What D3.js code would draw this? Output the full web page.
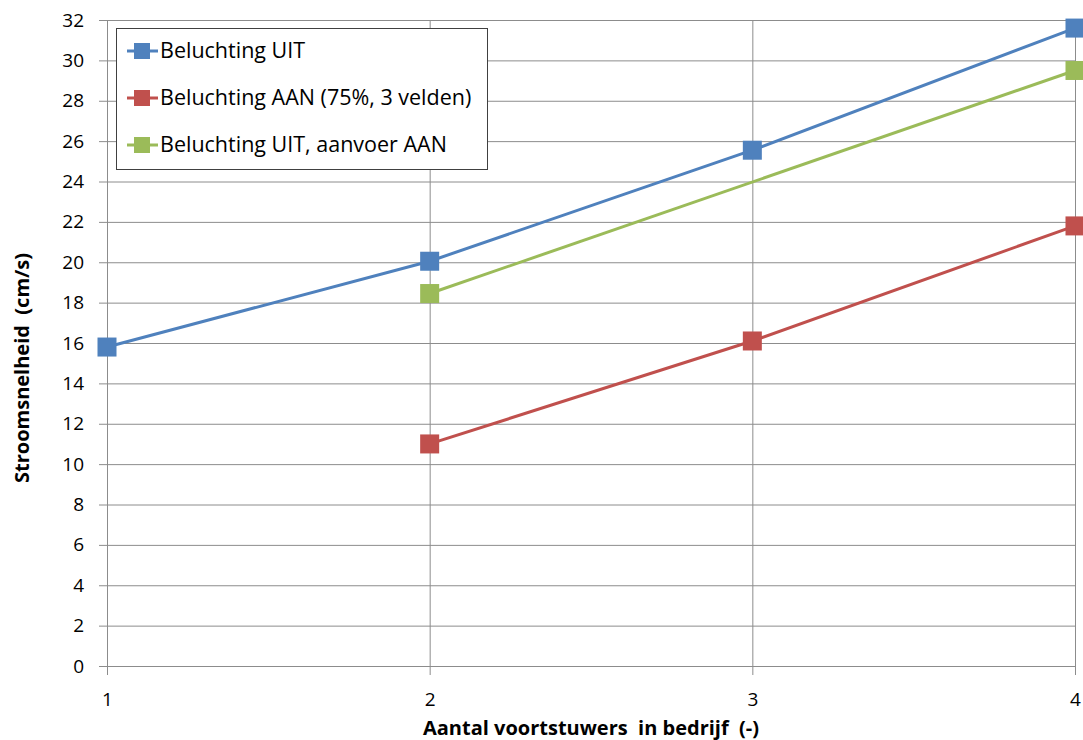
<!DOCTYPE html>
<html>
<head>
<meta charset="utf-8">
<script src="https://cdn.jsdelivr.net/npm/d3@7/dist/d3.min.js"></script>
<style>
  html, body { margin: 0; padding: 0; background: #fff; }
  svg { display: block; }
  text { font-family: "Open Sans", "Liberation Sans", sans-serif; fill: #000; white-space: pre; }
</style>
</head>
<body>
<svg id="chart" width="1083" height="740"></svg>
<script>
// Number of propulsion units in operation (x) against flow velocity (y)
const xTicks = [1, 2, 3, 4];
const yTicks = [0, 2, 4, 6, 8, 10, 12, 14, 16, 18, 20, 22, 24, 26, 28, 30, 32];

const seriesNames = [
  "Beluchting UIT",
  "Beluchting AAN (75%, 3 velden)",
  "Beluchting UIT, aanvoer AAN"
];
const seriesColors = ["#4F81BD", "#C0504D", "#9BBB59"];

const uitX = [1, 2, 3, 4];
const uitY = [15.8, 20.05, 25.55, 31.6];

const aanX = [2, 3, 4];
const aanY = [11.0, 16.1, 21.8];

const aanvoerX = [2, 4];
const aanvoerY = [18.45, 29.5];

const xTitle = "Aantal voortstuwers  in bedrijf  (-)";
const yTitle = "Stroomsnelheid  (cm/s)";

const series = [
  { name: seriesNames[0], color: seriesColors[0], pts: uitX.map((x, i) => [x, uitY[i]]) },
  { name: seriesNames[1], color: seriesColors[1], pts: aanX.map((x, i) => [x, aanY[i]]) },
  { name: seriesNames[2], color: seriesColors[2], pts: aanvoerX.map((x, i) => [x, aanvoerY[i]]) }
];

const svg = d3.select("#chart");
const plot = { left: 107, right: 1075, top: 20, bottom: 666 };

const x = d3.scaleLinear().domain([1, 4]).range([plot.left, plot.right]);
const y = d3.scaleLinear().domain([0, 32]).range([plot.bottom, plot.top]);

const gridColor = "#8c8c8c";
const tickFont = "19px";

// Horizontal gridlines with y-axis ticks
const yAxis = d3.axisLeft(y).tickValues(yTicks).tickSize(8).tickPadding(15).tickFormat(d3.format("d"));
const gy = svg.append("g").attr("transform", `translate(${plot.left},0)`).call(yAxis);
gy.select(".domain").remove();
gy.selectAll(".tick line").attr("stroke", gridColor);
gy.selectAll(".tick text").style("font-size", tickFont).attr("fill", "#000");
gy.selectAll(".tick").append("line")
  .attr("x1", 0).attr("x2", plot.right - plot.left)
  .attr("stroke", gridColor).attr("stroke-width", 1);

// Vertical gridlines with x-axis ticks
const xAxis = d3.axisBottom(x).tickValues(xTicks).tickSize(9).tickPadding(18).tickFormat(d3.format("d"));
const gx = svg.append("g").attr("transform", `translate(0,${plot.bottom})`).call(xAxis);
gx.select(".domain").remove();
gx.selectAll(".tick line").attr("stroke", gridColor);
gx.selectAll(".tick text").style("font-size", tickFont).attr("fill", "#000");
gx.selectAll(".tick").append("line")
  .attr("y1", 0).attr("y2", plot.top - plot.bottom)
  .attr("stroke", gridColor).attr("stroke-width", 1);

// Axis titles
svg.append("text")
  .attr("x", 591)
  .attr("y", 735)
  .attr("text-anchor", "middle")
  .style("font-size", "20px").style("font-weight", "bold")
  .text(xTitle);

svg.append("text")
  .attr("transform", "translate(29,368) rotate(-90)")
  .attr("text-anchor", "middle")
  .style("font-size", "20px").style("font-weight", "bold")
  .text(yTitle);

// Lines and square markers
const line = d3.line().x(d => x(d[0])).y(d => y(d[1]));
const ms = 19;

series.forEach(s => {
  svg.append("path")
    .attr("d", line(s.pts))
    .attr("fill", "none")
    .attr("stroke", s.color)
    .attr("stroke-width", 3);
  svg.append("g").selectAll("rect").data(s.pts).join("rect")
    .attr("x", d => x(d[0]) - ms / 2)
    .attr("y", d => y(d[1]) - ms / 2)
    .attr("width", ms).attr("height", ms)
    .attr("fill", s.color);
});

// Legend
const legend = svg.append("g");
legend.append("rect")
  .attr("x", 116.5).attr("y", 28.5)
  .attr("width", 371).attr("height", 141)
  .attr("fill", "#fff").attr("stroke", "#404040").attr("stroke-width", 1);

const items = legend.selectAll("g.item").data(series).join("g")
  .attr("class", "item")
  .attr("transform", (d, i) => `translate(0,${51 + i * 47})`);
items.append("line")
  .attr("x1", 127).attr("x2", 158).attr("y1", 0).attr("y2", 0)
  .attr("stroke", d => d.color).attr("stroke-width", 3);
items.append("rect")
  .attr("x", 134).attr("y", -8).attr("width", 16).attr("height", 16)
  .attr("fill", d => d.color);
items.append("text")
  .attr("x", 160).attr("y", 7)
  .style("font-size", "21.5px")
  .text(d => d.name);
</script>
</body>
</html>
